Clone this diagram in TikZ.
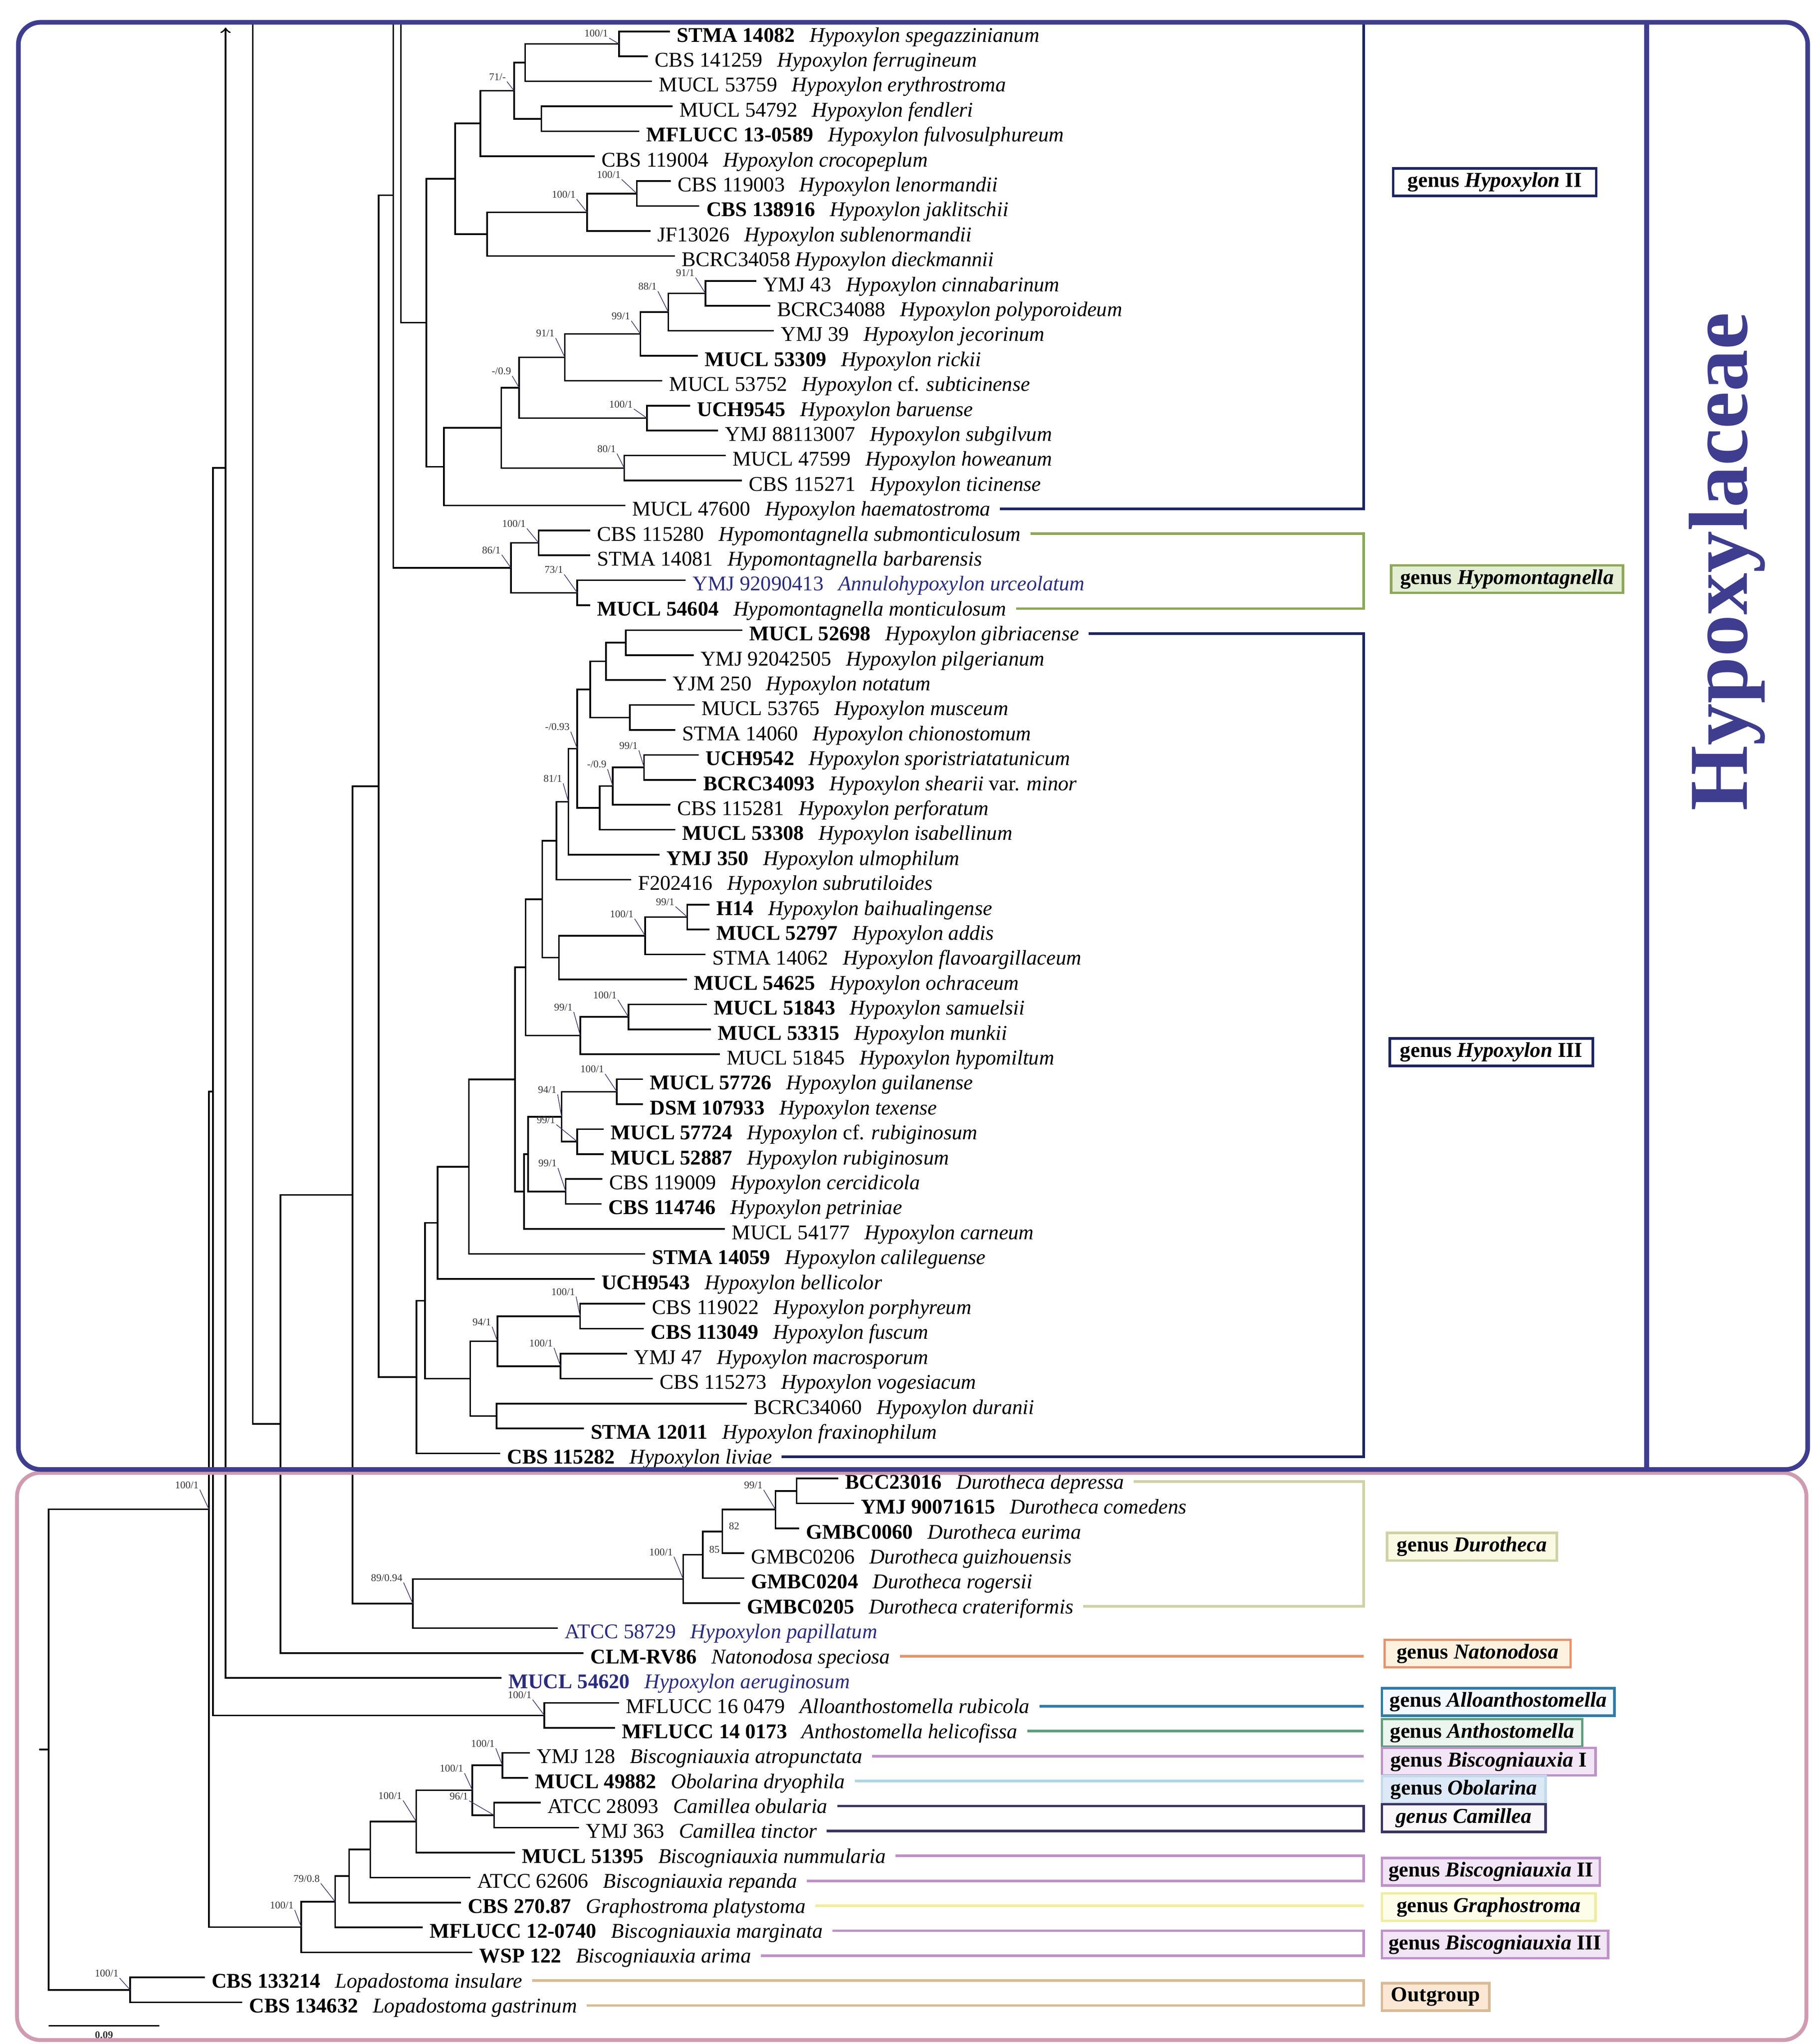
\documentclass[tikz,border=0pt]{standalone}
\usepackage{fontspec}
\setmainfont{Liberation Serif}
\definecolor{frameblue}{HTML}{3E3D8F}
\definecolor{framepink}{HTML}{CF9BB0}
\definecolor{navyline}{HTML}{1D2561}
\definecolor{bluetx}{HTML}{2A2C7E}
\definecolor{leadc}{HTML}{4A3470}
\definecolor{hmline}{HTML}{8CA858}
\definecolor{hmfill}{HTML}{E4EED4}
\definecolor{duline}{HTML}{D0D2A6}
\definecolor{dufill}{HTML}{FAFAE3}
\definecolor{naline}{HTML}{E5946F}
\definecolor{nafill}{HTML}{FDF1DF}
\definecolor{alline}{HTML}{2F7BA7}
\definecolor{alfill}{HTML}{F3F9FC}
\definecolor{anline}{HTML}{5F9D7B}
\definecolor{anfill}{HTML}{EDF5EF}
\definecolor{biline}{HTML}{BE92C8}
\definecolor{bifill}{HTML}{F2E5F5}
\definecolor{obline}{HTML}{AED6E2}
\definecolor{obborder}{HTML}{C2D9EB}
\definecolor{obfill}{HTML}{DDE9F6}
\definecolor{caline}{HTML}{3A3462}
\definecolor{cafill}{HTML}{FAF7FB}
\definecolor{grline}{HTML}{EFED9E}
\definecolor{grfill}{HTML}{FEFDE9}
\definecolor{ogline}{HTML}{D7BB96}
\definecolor{ogfill}{HTML}{FBE7D3}
\tikzset{
  declare function={ry(\r)=24+19.04*\r;},
  br/.style={line width=0.7pt},
  taxon/.style={anchor=base west,inner sep=0pt,font=\fontsize{9.1}{11}\selectfont},
  bsv/.style={anchor=south east,inner sep=0.3pt,font=\fontsize{4.5}{5}\selectfont,text=black!80},
  lead/.style={line width=0.3pt,draw=leadc},
  grp/.style={line width=1.1pt},
  legbox/.style={draw,line width=1.1pt,anchor=west,minimum height=0.42cm,inner xsep=0.1cm,inner ysep=0pt,font=\fontsize{9.2}{11}\selectfont\bfseries},
}
\newcommand{\txn}[2]{#1\hspace{0.7em}\textit{#2}}
\newcommand{\txb}[2]{\textbf{#1}\hspace{0.7em}\textit{#2}}
\newcommand{\bsl}[3][-7,-12]{\node[bsv] (#2v) at ([shift={(#1)}]#2) {#3};
  \draw[lead] (#2v.south east) -- (#2);}
\begin{document}
\begin{tikzpicture}[x=0.02cm,y=-0.02cm]
\useasboundingbox (0,0) rectangle (1384,1560);

\foreach \i/\x/\lab in {
  0/511.4/{\txb{STMA 14082}{Hypoxylon spegazzinianum}},
  1/494.7/{\txn{CBS 141259}{Hypoxylon ferrugineum}},
  2/497.8/{\txn{MUCL 53759}{Hypoxylon erythrostroma}},
  3/513.3/{\txn{MUCL 54792}{Hypoxylon fendleri}},
  4/488.1/{\txb{MFLUCC 13-0589}{Hypoxylon fulvosulphureum}},
  5/454.0/{\txn{CBS 119004}{Hypoxylon crocopeplum}},
  6/512.2/{\txn{CBS 119003}{Hypoxylon lenormandii}},
  7/533.9/{\txb{CBS 138916}{Hypoxylon jaklitschii}},
  8/496.7/{\txn{JF13026}{Hypoxylon sublenormandii}},
  9/515.3/{BCRC34058 \textit{Hypoxylon dieckmannii}},
  10/577.3/{\txn{YMJ 43}{Hypoxylon cinnabarinum}},
  11/588.1/{\txn{BCRC34088}{Hypoxylon polyporoideum}},
  12/590.8/{\txn{YMJ 39}{Hypoxylon jecorinum}},
  13/532.7/{\txb{MUCL 53309}{Hypoxylon rickii}},
  14/505.6/{\txn{MUCL 53752}{Hypoxylon \textup{cf.} subticinense}},
  15/526.9/{\txb{UCH9545}{Hypoxylon baruense}},
  16/548.2/{\txn{YMJ 88113007}{Hypoxylon subgilvum}},
  17/554.0/{\txn{MUCL 47599}{Hypoxylon howeanum}},
  18/566.4/{\txn{CBS 115271}{Hypoxylon ticinense}},
  19/477.3/{\txn{MUCL 47600}{Hypoxylon haematostroma}},
  20/450.6/{\txn{CBS 115280}{Hypomontagnella submonticulosum}},
  21/450.6/{\txn{STMA 14081}{Hypomontagnella barbarensis}},
  22/523.5/{\color{bluetx}\txn{YMJ 92090413}{Annulohypoxylon urceolatum}},
  23/450.6/{\txb{MUCL 54604}{Hypomontagnella monticulosum}},
  24/566.6/{\txb{MUCL 52698}{Hypoxylon gibriacense}},
  25/529.5/{\txn{YMJ 92042505}{Hypoxylon pilgerianum}},
  26/508.4/{\txn{YJM 250}{Hypoxylon notatum}},
  27/530.3/{\txn{MUCL 53765}{Hypoxylon musceum}},
  28/515.6/{\txn{STMA 14060}{Hypoxylon chionostomum}},
  29/533.5/{\txb{UCH9542}{Hypoxylon sporistriatatunicum}},
  30/531.5/{\txb{BCRC34093}{Hypoxylon shearii \textup{var.} minor}},
  31/511.6/{\txn{CBS 115281}{Hypoxylon perforatum}},
  32/515.6/{\txb{MUCL 53308}{Hypoxylon isabellinum}},
  33/503.6/{\txb{YMJ 350}{Hypoxylon ulmophilum}},
  34/481.7/{\txn{F202416}{Hypoxylon subrutiloides}},
  35/541.5/{\txb{H14}{Hypoxylon baihualingense}},
  36/541.5/{\txb{MUCL 52797}{Hypoxylon addis}},
  37/538.7/{\txn{STMA 14062}{Hypoxylon flavoargillaceum}},
  38/524.3/{\txb{MUCL 54625}{Hypoxylon ochraceum}},
  39/539.5/{\txb{MUCL 51843}{Hypoxylon samuelsii}},
  40/542.7/{\txb{MUCL 53315}{Hypoxylon munkii}},
  41/549.4/{\txn{MUCL 51845}{Hypoxylon hypomiltum}},
  42/490.9/{\txb{MUCL 57726}{Hypoxylon guilanense}},
  43/490.9/{\txb{DSM 107933}{Hypoxylon texense}},
  44/461.0/{\txb{MUCL 57724}{Hypoxylon \textup{cf.} rubiginosum}},
  45/461.0/{\txb{MUCL 52887}{Hypoxylon rubiginosum}},
  46/459.8/{\txn{CBS 119009}{Hypoxylon cercidicola}},
  47/459.0/{\txb{CBS 114746}{Hypoxylon petriniae}},
  48/553.4/{\txn{MUCL 54177}{Hypoxylon carneum}},
  49/492.6/{\txb{STMA 14059}{Hypoxylon calileguense}},
  50/453.9/{\txb{UCH9543}{Hypoxylon bellicolor}},
  51/492.6/{\txn{CBS 119022}{Hypoxylon porphyreum}},
  52/491.5/{\txb{CBS 113049}{Hypoxylon fuscum}},
  53/478.8/{\txn{YMJ 47}{Hypoxylon macrosporum}},
  54/498.2/{\txn{CBS 115273}{Hypoxylon vogesiacum}},
  55/570.1/{\txn{BCRC34060}{Hypoxylon duranii}},
  56/445.6/{\txb{STMA 12011}{Hypoxylon fraxinophilum}},
  57/381.9/{\txb{CBS 115282}{Hypoxylon liviae}},
  58/639.9/{\txb{BCC23016}{Durotheca depressa}},
  59/651.8/{\txb{YMJ 90071615}{Durotheca comedens}},
  60/610.0/{\txb{GMBC0060}{Durotheca eurima}},
  61/568.1/{\txn{GMBC0206}{Durotheca guizhouensis}},
  62/568.1/{\txb{GMBC0204}{Durotheca rogersii}},
  63/565.1/{\txb{GMBC0205}{Durotheca crateriformis}},
  64/425.8/{\color{bluetx}\txn{ATCC 58729}{Hypoxylon papillatum}},
  65/445.5/{\txb{CLM-RV86}{Natonodosa speciosa}},
  66/382.7/{\color{bluetx}\txb{MUCL 54620}{Hypoxylon aeruginosum}},
  67/472.4/{\txn{MFLUCC 16 0479}{Alloanthostomella rubicola}},
  68/469.4/{\txb{MFLUCC 14 0173}{Anthostomella helicofissa}},
  69/404.4/{\txn{YMJ 128}{Biscogniauxia atropunctata}},
  70/403.0/{\txb{MUCL 49882}{Obolarina dryophila}},
  71/412.7/{\txn{ATCC 28093}{Camillea obularia}},
  72/442.0/{\txn{YMJ 363}{Camillea tinctor}},
  73/393.2/{\txb{MUCL 51395}{Biscogniauxia nummularia}},
  74/359.1/{\txn{ATCC 62606}{Biscogniauxia repanda}},
  75/351.8/{\txb{CBS 270.87}{Graphostroma platystoma}},
  76/322.6/{\txb{MFLUCC 12-0740}{Biscogniauxia marginata}},
  77/360.6/{\txb{WSP 122}{Biscogniauxia arima}},
  78/156.3/{\txb{CBS 133214}{Lopadostoma insulare}},
  79/185.0/{\txb{CBS 134632}{Lopadostoma gastrinum}}}{
  \coordinate (t\i) at (\x,{ry(\i)});
  \node[taxon] (l\i) at ([shift={(5,8)}]t\i) {\lab};
  \coordinate (x\i) at (l\i.east |- t\i);
  \coordinate (e\i) at ([shift={(7,2.5)}]x\i);
}

\coordinate (h1) at (472.6,{ry(0.5)});
\coordinate (h2) at (400.9,{ry(1.25)});
\coordinate (h4) at (413.3,{ry(3.5)});
\coordinate (h3) at (392.4,{ry(2.375)});
\coordinate (h5) at (366.8,{ry(3.6875)});
\coordinate (h7) at (486.2,{ry(6.5)});
\coordinate (h8) at (448.2,{ry(7.25)});
\coordinate (h9) at (371.9,{ry(8.125)});
\coordinate (h6) at (347.5,{ry(5.90625)});
\coordinate (h11) at (538.5,{ry(10.5)});
\coordinate (h12) at (510.2,{ry(11.25)});
\coordinate (h13) at (488.9,{ry(12.125)});
\coordinate (h14) at (431.2,{ry(13.0625)});
\coordinate (h15) at (493.9,{ry(15.5)});
\coordinate (h16) at (396.3,{ry(14.28125)});
\coordinate (h17) at (476.5,{ry(17.5)});
\coordinate (h18) at (382.7,{ry(15.890625)});
\coordinate (h19) at (338.9,{ry(17.4453)});
\coordinate (h10) at (325.4,{ry(11.6758)});
\coordinate (m1) at (411.2,{ry(20.5)});
\coordinate (m2) at (440.7,{ry(22.5)});
\coordinate (m3) at (390.0,{ry(21.5)});
\coordinate (k1) at (477.7,{ry(24.5)});
\coordinate (k2) at (462.6,{ry(25.25)});
\coordinate (k3) at (480.9,{ry(27.5)});
\coordinate (k4) at (450.6,{ry(26.375)});
\coordinate (k6) at (491.7,{ry(29.5)});
\coordinate (k7) at (467.8,{ry(30.25)});
\coordinate (k8) at (457.8,{ry(31.125)});
\coordinate (k5) at (440.7,{ry(28.75)});
\coordinate (k9) at (433.9,{ry(30.875)});
\coordinate (k10) at (424.7,{ry(32.4375)});
\coordinate (k11) at (524.7,{ry(35.5)});
\coordinate (k12) at (492.5,{ry(36.25)});
\coordinate (k13) at (426.7,{ry(37.125)});
\coordinate (k14) at (414.0,{ry(34.78125)});
\coordinate (k15) at (479.7,{ry(39.5)});
\coordinate (k16) at (443.0,{ry(40.25)});
\coordinate (k17) at (401.2,{ry(37.515625)});
\coordinate (k18) at (470.9,{ry(42.5)});
\coordinate (k19) at (440.7,{ry(44.5)});
\coordinate (k20) at (428.7,{ry(43.5)});
\coordinate (k21) at (431.9,{ry(46.5)});
\coordinate (k22) at (403.2,{ry(45)});
\coordinate (k23) at (400.0,{ry(46.5)});
\coordinate (k24) at (393.2,{ry(42.0078)});
\coordinate (k25) at (358.0,{ry(45.5039)});
\coordinate (k26) at (334.0,{ry(47.752)});
\coordinate (k27) at (442.8,{ry(51.5)});
\coordinate (k28) at (427.9,{ry(53.5)});
\coordinate (k29) at (379.7,{ry(52.5)});
\coordinate (k30) at (379.1,{ry(55.5)});
\coordinate (k31) at (359.0,{ry(54)});
\coordinate (k32) at (324.5,{ry(50.876)});
\coordinate (k33) at (318.0,{ry(53.938)});
\coordinate (d1) at (608.2,{ry(58.5)});
\coordinate (d2) at (592.0,{ry(59.25)});
\coordinate (d3) at (551.4,{ry(60.125)});
\coordinate (d4) at (536.4,{ry(61.0625)});
\coordinate (d5) at (521.5,{ry(62.03125)});
\coordinate (d6) at (315.1,{ry(63.015625)});
\coordinate (c1) at (415.6,{ry(67.5)});
\coordinate (b1) at (383.5,{ry(69.5)});
\coordinate (b2) at (377.2,{ry(71.5)});
\coordinate (b3) at (360.6,{ry(70.5)});
\coordinate (b4) at (317.7,{ry(71.75)});
\coordinate (b5) at (282.7,{ry(72.875)});
\coordinate (b6) at (266.6,{ry(73.9375)});
\coordinate (b7) at (255.9,{ry(74.96875)});
\coordinate (b8) at (230.0,{ry(75.984375)});
\coordinate (lop) at (99.3,{ry(78.5)});
\coordinate (anc1) at (172.2,{ry(17.49)});
\coordinate (anc3) at (300.2,{ry(6.565)});
\coordinate (s1) at (289.0,{ry(30.2515)});
\coordinate (s2) at (269.1,{ry(46.6336)});
\coordinate (s3) at (214.1,{ry(55.8168)});
\coordinate (s4) at (162.6,{ry(42.495)});
\coordinate (s5) at (159.5,{ry(59.2397)});
\coordinate (root) at (37.2,{ry(68.8699)});
\coordinate (base) at (29.8,{ry(68.8699)});
\coordinate (top1) at (172.2,21);
\coordinate (top2) at (193.0,17);
\coordinate (top3) at (300.2,17);
\coordinate (top4) at (306.0,17);
\coordinate (top5) at (1041,17);
\coordinate (gx) at (1041,0);

\foreach \p/\c in {h1/t0,h1/t1,h2/h1,h2/t2,h4/t3,h4/t4,h3/h2,h3/h4,h5/h3,h5/t5,
  h7/t6,h7/t7,h8/h7,h8/t8,h9/h8,h9/t9,h6/h5,h6/h9,h11/t10,h11/t11,h12/h11,h12/t12,
  h13/h12,h13/t13,h14/h13,h14/t14,h15/t15,h15/t16,h16/h14,h16/h15,h17/t17,h17/t18,
  h18/h16,h18/h17,h19/h18,h19/t19,h10/h6,h10/h19,
  m1/t20,m1/t21,m2/t22,m2/t23,m3/m1,m3/m2,
  k1/t24,k1/t25,k2/k1,k2/t26,k3/t27,k3/t28,k4/k2,k4/k3,k6/t29,k6/t30,k7/k6,k7/t31,
  k8/k7,k8/t32,k5/k4,k5/k8,k9/k5,k9/t33,k10/k9,k10/t34,k11/t35,k11/t36,k12/k11,k12/t37,
  k13/k12,k13/t38,k14/k10,k14/k13,k15/t39,k15/t40,k16/k15,k16/t41,k17/k14,k17/k16,
  k18/t42,k18/t43,k19/t44,k19/t45,k20/k18,k20/k19,k21/t46,k21/t47,k22/k20,k22/k21,
  k23/k22,k23/t48,k24/k17,k24/k23,k25/k24,k25/t49,k26/k25,k26/t50,k27/t51,k27/t52,
  k28/t53,k28/t54,k29/k27,k29/k28,k30/t55,k30/t56,k31/k29,k31/k30,k32/k26,k32/k31,
  k33/k32,k33/t57,s1/anc3,s1/k33,
  d1/t58,d1/t59,d2/d1,d2/t60,d3/d2,d3/t61,d4/d3,d4/t62,d5/d4,d5/t63,d6/d5,d6/t64,
  s2/s1,s2/d6,s3/s2,s3/t65,c1/t67,c1/t68,s4/anc1,s4/c1,
  b1/t69,b1/t70,b2/t71,b2/t72,b3/b1,b3/b2,b4/b3,b4/t73,b5/b4,b5/t74,b6/b5,b6/t75,
  b7/b6,b7/t76,b8/b7,b8/t77,s5/s4,s5/b8,lop/t78,lop/t79,root/s5,root/lop}
  \draw[br] (\p) |- (\c);
\draw[br] (base) -- (root);
\draw[br,->] (anc1) -- (top1);
\draw[br] (anc1) |- (t66);
\draw[br] (top2) |- (s3);
\draw[br] (top3) |- (m3);
\draw[br] (top4) |- (h10);

\bsl[-7.6,-4.5]{h1}{100/1}
\bsl[-5.4,-7]{h3}{71/-}
\bsl[-11.6,-10.8]{h7}{100/1}
\bsl[-8,-10]{h8}{100/1}
\bsl[-7.5,-12]{h11}{91/1}
\bsl[-8,-16]{h12}{88/1}
\bsl[-7,-10]{h13}{99/1}
\bsl[-7,-14.7]{h14}{91/1}
\bsl[-10,-7]{h15}{100/1}
\bsl[-5.3,-9]{h16}{-/0.9}
\bsl[-5.5,-11]{h17}{80/1}
\bsl[-9,-11]{m1}{100/1}
\bsl[-7,-10]{m3}{86/1}
\bsl[-10,-14]{m2}{73/1}
\bsl[-5,-13]{k5}{-/0.93}
\bsl[-4,-13]{k6}{99/1}
\bsl[-4,-13]{k7}{-/0.9}
\bsl[-4,-14]{k9}{81/1}
\bsl[-9,-8]{k11}{99/1}
\bsl[-8,-13]{k12}{100/1}
\bsl[-8,-13]{k15}{100/1}
\bsl[-5,-18]{k16}{99/1}
\bsl[-9,-13.6]{k18}{100/1}
\bsl[-3,-17]{k20}{94/1}
\bsl[-16,-13]{k19}{99/1}
\bsl[-6,-18]{k21}{99/1}
\bsl[-3,-15]{k27}{100/1}
\bsl[-4,-11]{k29}{94/1}
\bsl[-5,-14]{k28}{100/1}
\bsl[-9,-15]{d2}{99/1}
\bsl[-7,-17]{d5}{100/1}
\bsl[-7,-16]{d6}{89/0.94}
\bsl[-7,-15]{s5}{100/1}
\bsl[-9,-12]{c1}{100/1}
\bsl[-5,-13]{b1}{100/1}
\bsl[-6,-13]{b3}{100/1}
\bsl[-19,-11]{b2}{96/1}
\bsl[-10,-16]{b4}{100/1}
\bsl[-11,-14]{b7}{79/0.8}
\bsl[-5,-13]{b8}{100/1}
\bsl[-8,-9]{lop}{100/1}
\node[bsv,anchor=center] (d3v) at ([shift={(9,-4)}]d3) {82};
\node[bsv,anchor=center] (d4v) at ([shift={(9,-4)}]d4) {85};

\draw[grp,navyline] (e19) -| (top5);
\draw[grp,hmline] (e20) -| (e23 -| gx) -- (e23);
\draw[grp,navyline] (e24) -| (e57 -| gx) -- (e57);
\draw[grp,duline] (e58) -| (e63 -| gx) -- (e63);
\draw[grp,naline] (e65) -- (e65 -| gx);
\draw[grp,alline] (e67) -- (e67 -| gx);
\draw[grp,anline] (e68) -- (e68 -| gx);
\draw[grp,biline] (e69) -- (e69 -| gx);
\draw[grp,obline] (e70) -- (e70 -| gx);
\draw[grp,caline] (e71) -| (e72 -| gx) -- (e72);
\draw[grp,biline] (e73) -| (e74 -| gx) -- (e74);
\draw[grp,grline] (e75) -- (e75 -| gx);
\draw[grp,biline] (e76) -| (e77 -| gx) -- (e77);
\draw[grp,ogline] (e78) -| (e79 -| gx) -- (e79);

\node[legbox,draw=navyline,fill=white,minimum width=3.1cm] (gHyII) at (1062.6,139) {genus \textit{Hypoxylon} II};
\node[legbox,draw=hmline,fill=hmfill,minimum width=3.54cm] (gHm) at (1061,442) {genus \textit{Hypomontagnella}};
\node[legbox,draw=navyline,fill=white,minimum width=3.1cm] (gHyIII) at (1060,803) {genus \textit{Hypoxylon} III};
\node[legbox,draw=duline,fill=dufill,minimum width=2.59cm] (gDu) at (1058,1180.5) {genus \textit{Durotheca}};
\node[legbox,draw=naline,fill=nafill,minimum width=2.84cm] (gNa) at (1056,1262) {genus \textit{Natonodosa}};
\node[legbox,draw=alline,fill=alfill,minimum width=3.55cm] (gAl) at (1054,1299) {genus \textit{Alloanthostomella}};
\node[legbox,draw=anline,fill=anfill,minimum width=3.06cm] (gAn) at (1054,1322.5) {genus \textit{Anthostomella}};
\node[legbox,draw=biline,fill=bifill,minimum width=3.26cm] (gBiI) at (1054,1344.5) {genus \textit{Biscogniauxia} I};
\node[legbox,draw=obborder,fill=obfill,minimum width=2.5cm] (gOb) at (1054,1366) {genus \textit{Obolarina}};
\node[legbox,draw=caline,fill=cafill,minimum width=2.5cm] (gCa) at (1054,1387.5) {\textit{genus Camillea}};
\node[legbox,draw=biline,fill=bifill,minimum width=3.26cm] (gBiII) at (1054,1428.5) {genus \textit{Biscogniauxia} II};
\node[legbox,draw=grline,fill=grfill,minimum width=3.26cm] (gGr) at (1054,1455.5) {genus \textit{Graphostroma}};
\node[legbox,draw=biline,fill=bifill,minimum width=3.44cm] (gBiIII) at (1054,1484) {genus \textit{Biscogniauxia} III};
\node[legbox,draw=ogline,fill=ogfill,minimum width=1.64cm] (gOg) at (1054,1524) {Outgroup};

\coordinate (sb1) at (37.2,1546);
\coordinate (sb2) at (121.6,1546);
\draw[br] (sb1) -- (sb2);
\node[bsv,anchor=center] (sbl) at (79.4,1553) {\textbf{0.09}};

\draw[framepink,line width=1.7pt,rounded corners=0.36cm] (13,1124) rectangle (1379,1557);
\draw[frameblue,line width=2pt,rounded corners=0.34cm] (14,17) rectangle (1380,1121.5);
\draw[frameblue,line width=2pt] (1257,17) -- (1257,1121.5);
\node[rotate=90,text=frameblue,inner sep=0pt,font=\fontsize{36.4}{40}\selectfont\bfseries] (fam) at (1318.5,428.6) {Hypoxylaceae};
\end{tikzpicture}
\end{document}
